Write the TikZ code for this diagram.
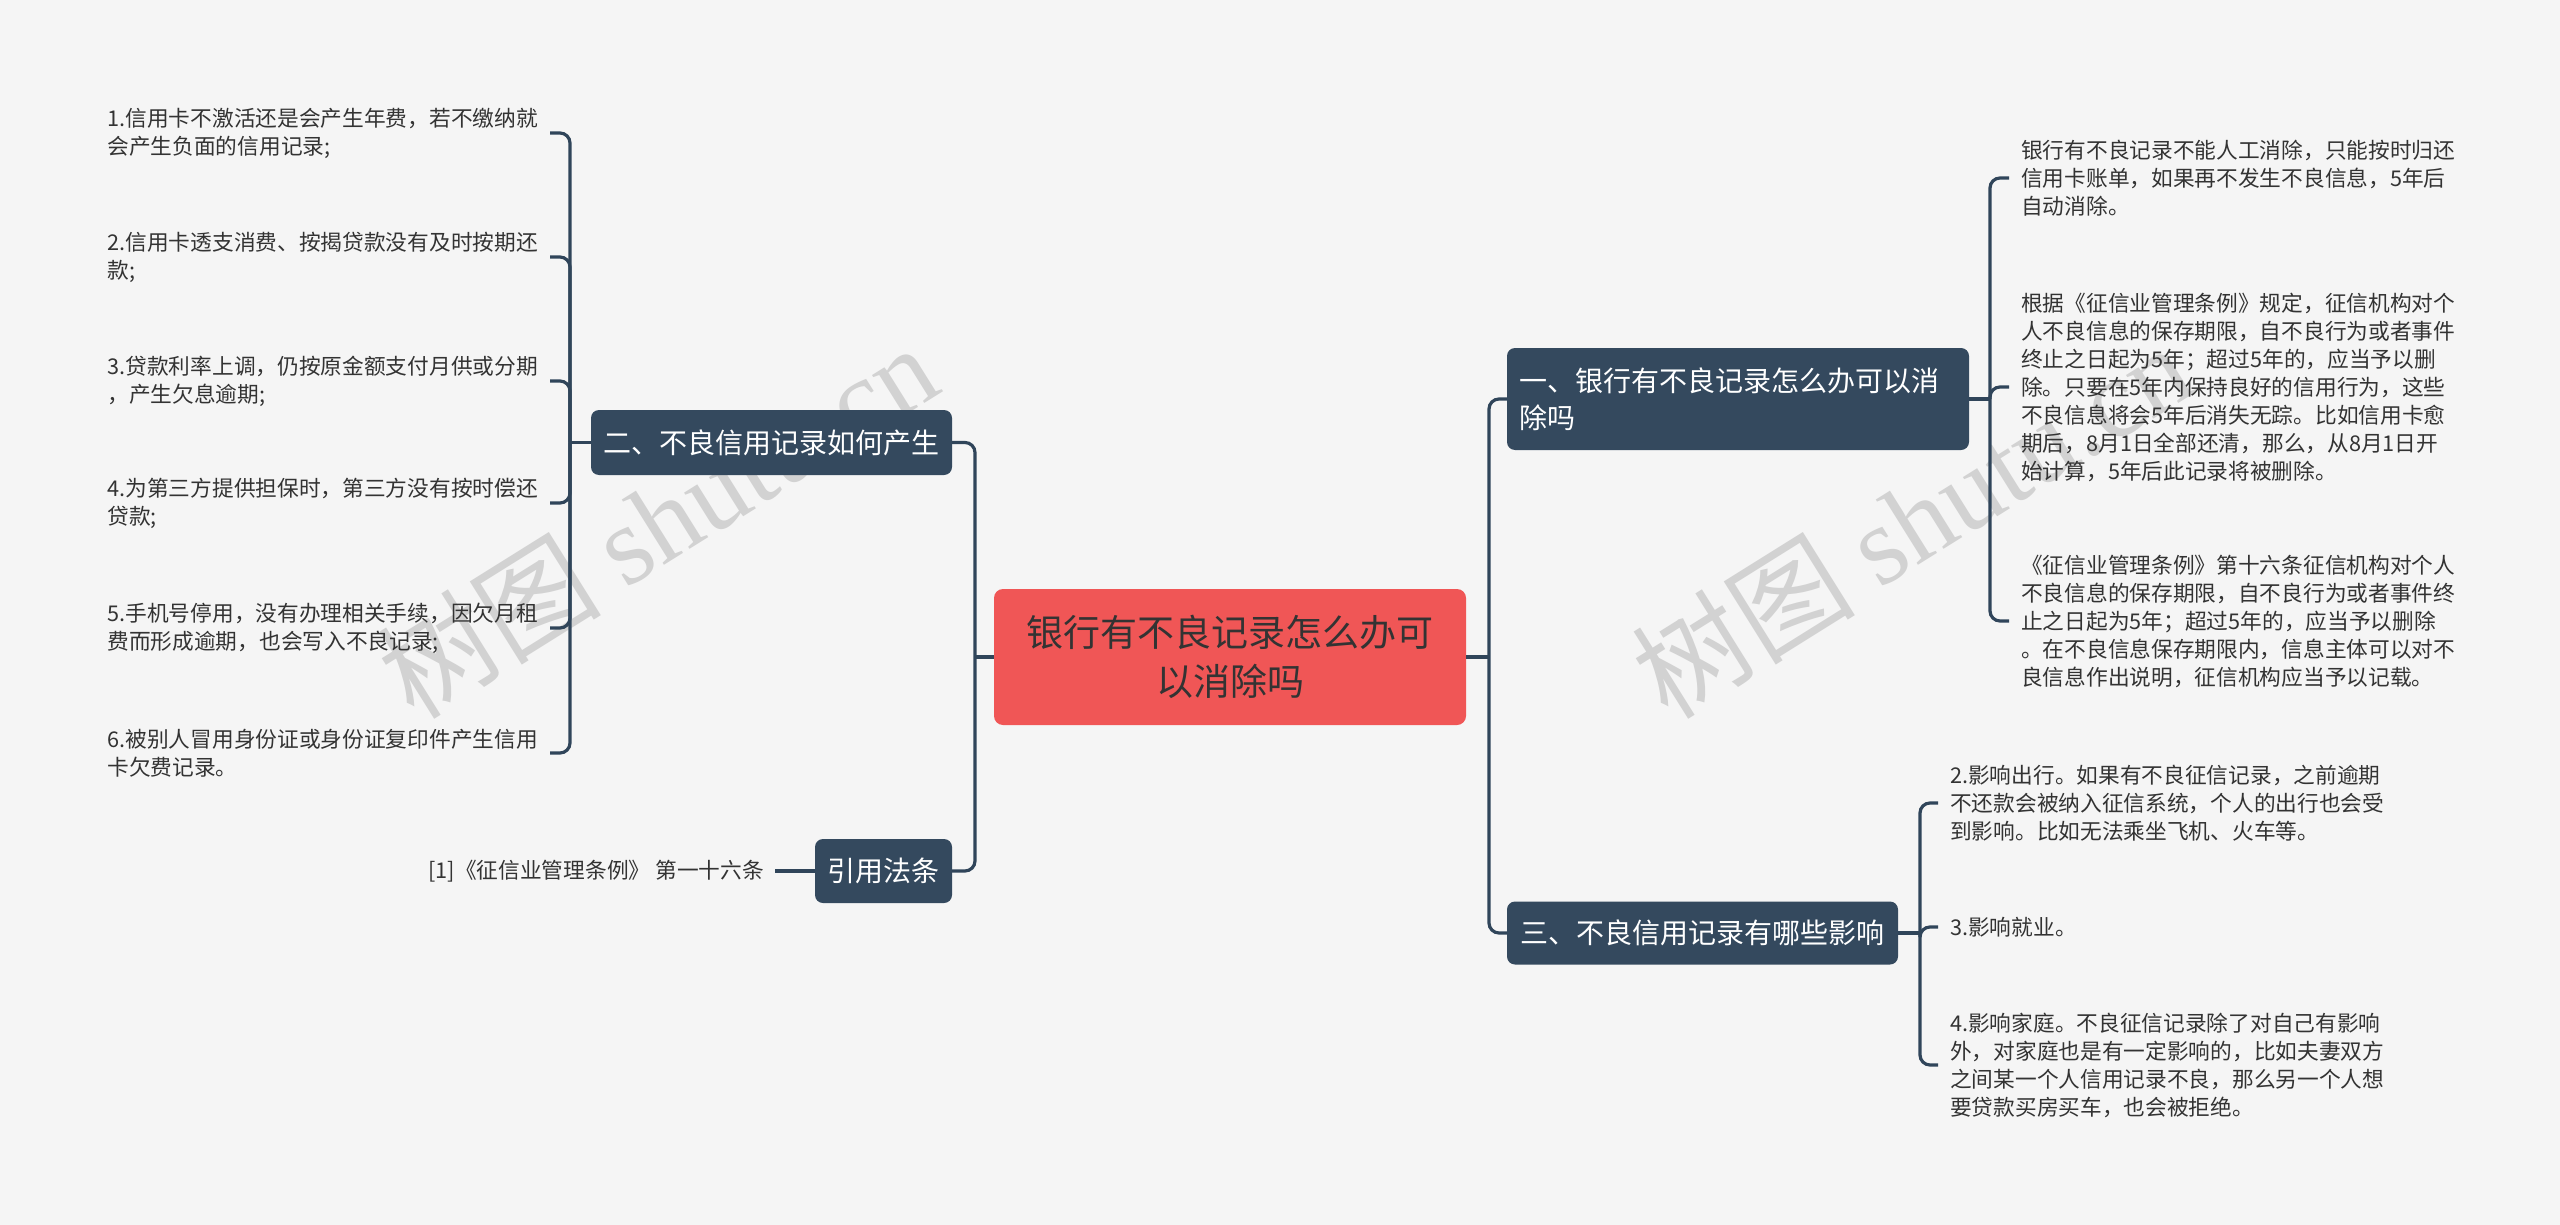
\documentclass[tikz,border=0pt]{standalone}
\usepackage{fontspec}
\setmainfont{Noto Sans CJK SC}
\newfontfamily\wmserif{Liberation Serif}
\definecolor{bgc}{HTML}{F5F5F5}
\definecolor{darkc}{HTML}{34495E}
\definecolor{linec}{HTML}{30455A}
\definecolor{rootc}{HTML}{F05656}
\definecolor{textc}{HTML}{333333}
\definecolor{wmc}{HTML}{D2D2D2}
\begin{document}
\begin{tikzpicture}[x=1pt,y=-1pt,
  conn/.style={draw=linec, line width=3.2pt, rounded corners=10pt},
  topic/.style={rectangle, rounded corners=8pt, fill=darkc, text=white,
    font=\fontsize{28}{37}\selectfont, inner sep=0pt},
  rootbox/.style={rectangle, rounded corners=9pt, fill=rootc, text=textc,
    font=\fontsize{37}{49}\selectfont, inner sep=0pt, align=center},
  leaf/.style={text=textc, font=\fontsize{21.7}{28}\selectfont, align=left,
    inner xsep=12pt, inner ysep=0pt},
  wm/.style={rotate=32, text=wmc, font=\fontsize{112}{112}\selectfont, inner sep=0pt}
]
\useasboundingbox (0,0) rectangle (2560,1225);
\fill[bgc] (0,0) rectangle (2560,1225);

% watermarks
\node[wm] (wm1) at (657,520) {树图 {\wmserif shutu.cn}};
\node[wm] (wm2) at (1911,520) {树图 {\wmserif shutu.cn}};

% main nodes
\node[rootbox, minimum width=472pt, minimum height=136pt] (root) at (1230,657)
  {银行有不良记录怎么办可\\以消除吗};
\node[topic, minimum width=462pt, minimum height=102pt, text width=438pt, align=left,
  inner xsep=12pt] (b1) at (1738,399) {一、银行有不良记录怎么办可以消\\除吗};
\node[topic, minimum width=361pt, minimum height=65pt] (b2) at (771.5,442.5)
  {二、不良信用记录如何产生};
\node[topic, minimum width=391pt, minimum height=63pt] (b3) at (1702.5,933)
  {三、不良信用记录有哪些影响};
\node[topic, minimum width=137pt, minimum height=64pt] (b4) at (883.5,871)
  {引用法条};

% left leaves
\node[leaf, anchor=east] (l1) at (550,133) {1.信用卡不激活还是会产生年费，若不缴纳就\\会产生负面的信用记录;};
\node[leaf, anchor=east] (l2) at (550,257) {2.信用卡透支消费、按揭贷款没有及时按期还\\款;};
\node[leaf, anchor=east] (l3) at (550,381) {3.贷款利率上调，仍按原金额支付月供或分期\\，产生欠息逾期;};
\node[leaf, anchor=east] (l4) at (550,503) {4.为第三方提供担保时，第三方没有按时偿还\\贷款;};
\node[leaf, anchor=east] (l5) at (550,628) {5.手机号停用，没有办理相关手续，因欠月租\\费而形成逾期，也会写入不良记录;};
\node[leaf, anchor=east] (l6) at (550,753) {6.被别人冒用身份证或身份证复印件产生信用\\卡欠费记录。};
\node[leaf, anchor=east, inner xsep=11pt] (ref) at (775,871) {[1]《征信业管理条例》 第一十六条};

% right leaves of 一
\node[leaf, anchor=west] (r1) at (2009,178) {银行有不良记录不能人工消除，只能按时归还\\信用卡账单，如果再不发生不良信息，5年后\\自动消除。};
\node[leaf, anchor=west] (r2) at (2009,387) {根据《征信业管理条例》规定，征信机构对个\\人不良信息的保存期限，自不良行为或者事件\\终止之日起为5年；超过5年的，应当予以删\\除。只要在5年内保持良好的信用行为，这些\\不良信息将会5年后消失无踪。比如信用卡愈\\期后，8月1日全部还清，那么，从8月1日开\\始计算，5年后此记录将被删除。};
\node[leaf, anchor=west] (r3) at (2009,621) {《征信业管理条例》第十六条征信机构对个人\\不良信息的保存期限，自不良行为或者事件终\\止之日起为5年；超过5年的，应当予以删除\\。在不良信息保存期限内，信息主体可以对不\\良信息作出说明，征信机构应当予以记载。};

% right leaves of 三
\node[leaf, anchor=west] (t1) at (1938,803) {2.影响出行。如果有不良征信记录，之前逾期\\不还款会被纳入征信系统，个人的出行也会受\\到影响。比如无法乘坐飞机、火车等。};
\node[leaf, anchor=west] (t2) at (1938,927) {3.影响就业。};
\node[leaf, anchor=west] (t3) at (1938,1065) {4.影响家庭。不良征信记录除了对自己有影响\\外，对家庭也是有一定影响的，比如夫妻双方\\之间某一个人信用记录不良，那么另一个人想\\要贷款买房买车，也会被拒绝。};

% junction coordinates
\coordinate (tl) at (975,657);
\coordinate (tr) at (1489,657);
\coordinate (sl) at (570,442.5);
\coordinate (sr1) at (1990,399);
\coordinate (sr3) at (1920,933);

% connectors
\draw[conn] (root.west) -- (tl);
\draw[conn] (b2.east) -| (tl) |- (b4.east);
\draw[conn] (root.east) -- (tr);
\draw[conn] (b1.west) -| (tr) |- (b3.west);

\draw[conn] (b2.west) -- (sl);
\draw[conn] (l1.east) -| (sl) |- (l6.east);
\draw[conn] (l2.east) -| (sl);
\draw[conn] (l3.east) -| (sl);
\draw[conn] (l4.east) -| (sl);
\draw[conn] (l5.east) -| (sl);
\draw[conn] (b4.west) -- (ref.east);

\draw[conn] (b1.east) -- (sr1);
\draw[conn] (r1.west) -| (sr1) |- (r3.west);
\draw[conn] (r2.west) -| (sr1);

\draw[conn] (b3.east) -- (sr3);
\draw[conn] (t1.west) -| (sr3) |- (t3.west);
\draw[conn] (t2.west) -| (sr3);
\end{tikzpicture}
\end{document}
